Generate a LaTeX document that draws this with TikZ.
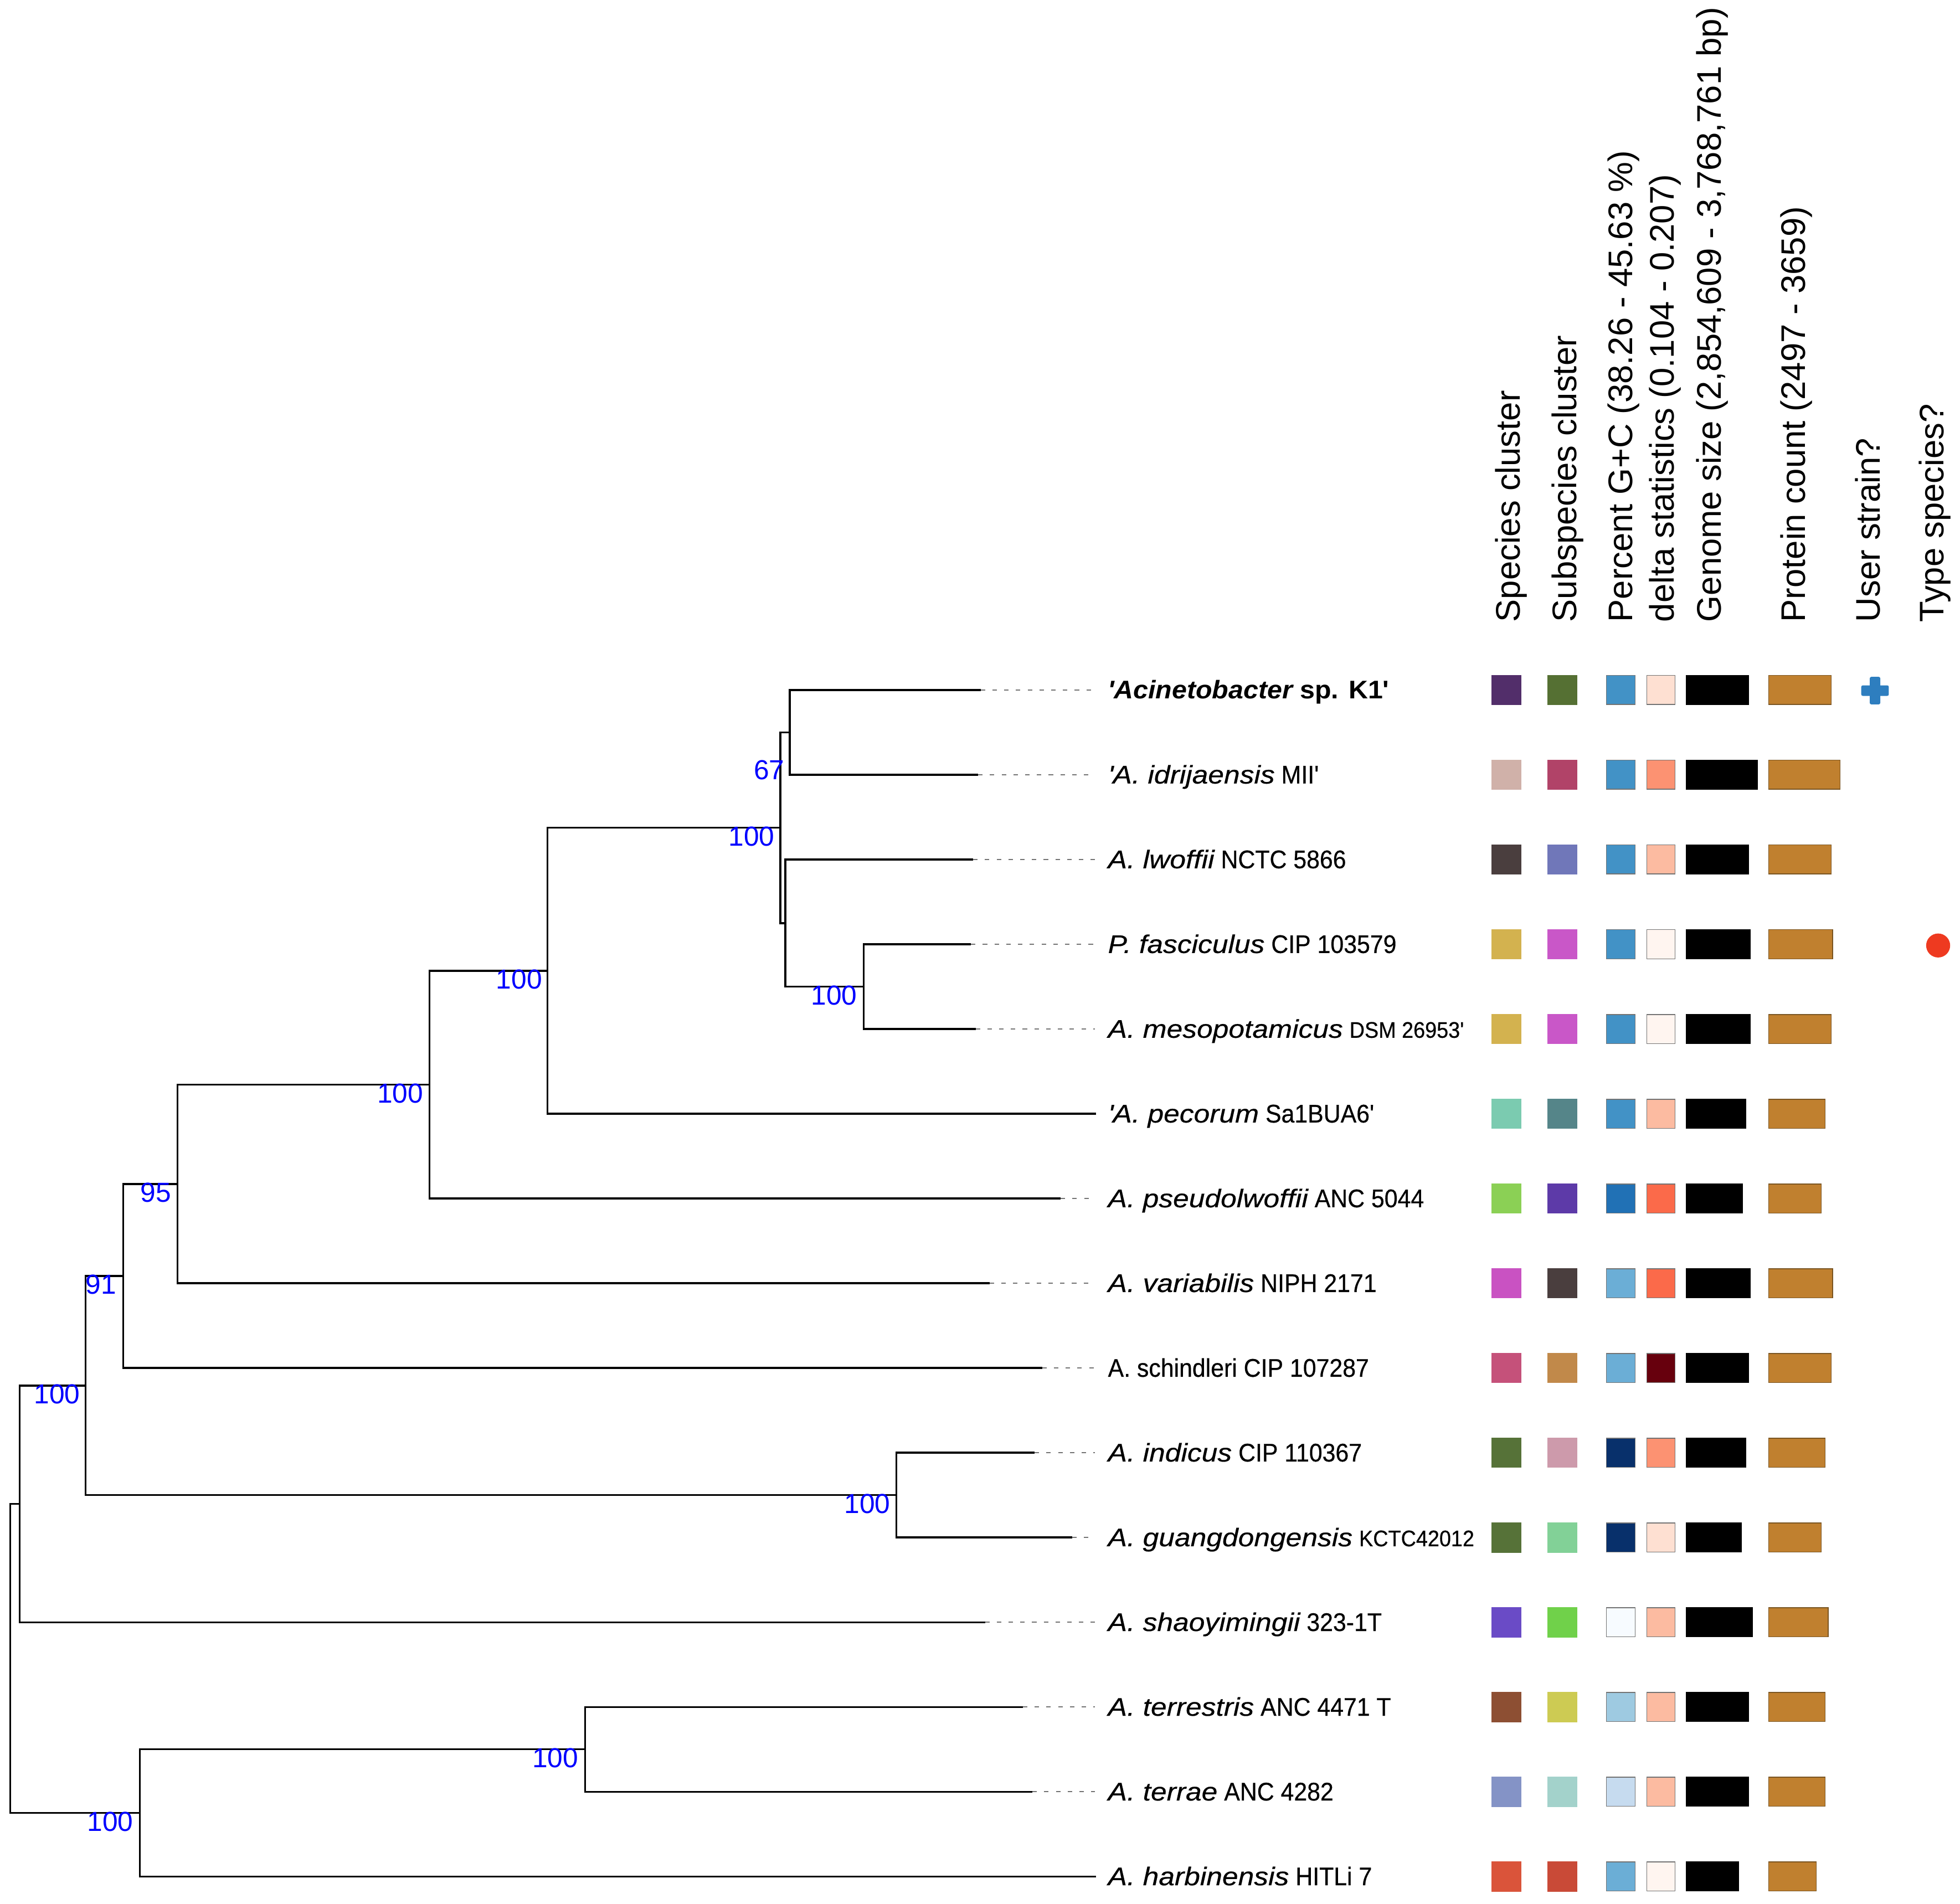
\documentclass[tikz,border=0pt]{standalone}
\usepackage{fontspec}
\setmainfont{Liberation Sans}
\newfontfamily\labup{Liberation Sans}[FakeStretch=0.93,FakeBold=0.5]
\newfontfamily\labit{Liberation Sans}[FakeStretch=1.12,FakeBold=0.5]
\newfontfamily\labbi{Liberation Sans}[FakeStretch=1.05]
\newcommand\sq{\textquotesingle}
% species cluster colours
\definecolor{spa}{HTML}{522E6A}\definecolor{spb}{HTML}{D0B1A9}\definecolor{spc}{HTML}{4A3E3E}
\definecolor{spd}{HTML}{D3B24F}\definecolor{spf}{HTML}{7BCBB0}\definecolor{spg}{HTML}{8BD055}
\definecolor{sph}{HTML}{C952C2}\definecolor{spi}{HTML}{C5517A}\definecolor{spj}{HTML}{567238}
\definecolor{spl}{HTML}{6A4BC6}\definecolor{spm}{HTML}{8D4F33}\definecolor{spn}{HTML}{8493C6}
\definecolor{spo}{HTML}{DA543A}
% subspecies cluster colours
\definecolor{sba}{HTML}{557033}\definecolor{sbb}{HTML}{B14368}\definecolor{sbc}{HTML}{7077B9}
\definecolor{sbd}{HTML}{C957C8}\definecolor{sbf}{HTML}{558589}\definecolor{sbg}{HTML}{5D3AA8}
\definecolor{sbi}{HTML}{C1894A}\definecolor{sbj}{HTML}{CD9AAB}\definecolor{sbk}{HTML}{82D197}
\definecolor{sbl}{HTML}{70D14A}\definecolor{sbm}{HTML}{CDCB53}\definecolor{sbn}{HTML}{A3D2CB}
\definecolor{sbo}{HTML}{C94A37}
% blues and reds
\definecolor{blA}{HTML}{F7FBFF}\definecolor{blC}{HTML}{C6DBEF}\definecolor{blD}{HTML}{9ECAE1}
\definecolor{blE}{HTML}{6BAED6}\definecolor{blF}{HTML}{4292C6}\definecolor{blG}{HTML}{2171B5}
\definecolor{blI}{HTML}{08306B}
\definecolor{rdA}{HTML}{FFF5F0}\definecolor{rdB}{HTML}{FEE0D2}\definecolor{rdC}{HTML}{FCBBA1}
\definecolor{rdD}{HTML}{FC9272}\definecolor{rdE}{HTML}{FB6A4A}\definecolor{rdI}{HTML}{67000D}
\definecolor{prot}{HTML}{C0802F}\definecolor{protb}{HTML}{7A5522}
\definecolor{crossblue}{HTML}{2E7EBF}\definecolor{dotred}{HTML}{EE3A20}
\definecolor{supblue}{HTML}{0000FF}
\newcommand\datarow[7]{%
  \fill[#2] (1193,#1-12.1) rectangle (1217,#1+12.1);
  \fill[#3] (1238,#1-12.1) rectangle (1262,#1+12.1);
  \filldraw[bx,fill=#4] (1285,#1-11.6) rectangle (1308,#1+11.6);
  \filldraw[bx,fill=#5] (1317.5,#1-11.6) rectangle (1340,#1+11.6);
  \filldraw[bx,fill=black,draw=black] (1349,#1-11.6) rectangle (#6,#1+11.6);
  \filldraw[bx,fill=prot,draw=protb] (1415,#1-11.6) rectangle (#7,#1+11.6);
}
\begin{document}
\begin{tikzpicture}[x=0.5pt,y=-0.5pt,
  br/.style={draw=black,line width=0.75pt},
  dsh/.style={draw=black!55,line width=0.5pt,dash pattern=on 1.8pt off 2.9pt},
  bx/.style={draw=black!55,line width=0.3pt},
  lab/.style={anchor=base west,inner sep=0pt,font=\fontsize{10.2}{12}\selectfont},
  sup/.style={anchor=east,inner sep=0pt,text=supblue,font=\fontsize{11}{13}\selectfont},
  hdr/.style={rotate=90,anchor=base west,inner sep=0pt,font=\fontsize{13.65}{16}\selectfont}]
\useasboundingbox (0,0) rectangle (1568,1522.8);

% ---- leaf ends of solid branches
\coordinate (e1) at (784.5,552);
\coordinate (e2) at (782.5,619.8);
\coordinate (e3) at (778.5,687.6);
\coordinate (e4) at (776.8,755.4);
\coordinate (e5) at (780.5,823.2);
\coordinate (e6) at (877,891);
\coordinate (e7) at (848.5,958.8);
\coordinate (e8) at (791.7,1026.6);
\coordinate (e9) at (833.7,1094.4);
\coordinate (e10) at (827.7,1162.2);
\coordinate (e11) at (857.8,1230);
\coordinate (e12) at (788,1297.8);
\coordinate (e13) at (818.3,1365.6);
\coordinate (e14) at (825.9,1433.4);
\coordinate (e15) at (877,1501.2);
% ---- ends of dotted leaders
\coordinate (d1) at (875,552);
\coordinate (d2) at (873,619.8);
\coordinate (d3) at (876,687.6);
\coordinate (d4) at (876,755.4);
\coordinate (d5) at (876,823.2);
\coordinate (d7) at (873,958.8);
\coordinate (d8) at (875,1026.6);
\coordinate (d9) at (876,1094.4);
\coordinate (d10) at (876,1162.2);
\coordinate (d11) at (872,1230);
\coordinate (d12) at (876,1297.8);
\coordinate (d13) at (876,1365.6);
\coordinate (d14) at (876,1433.4);
% ---- internal nodes
\coordinate (n1) at (631.8,585.9);
\coordinate (n3) at (690.9,789.3);
\coordinate (n2) at (628.3,738.5);
\coordinate (n4) at (624.3,662.2);
\coordinate (n5) at (438,776.6);
\coordinate (n6) at (343.5,867.7);
\coordinate (n7) at (142,947.2);
\coordinate (n8) at (98.7,1020.8);
\coordinate (n9) at (717,1196.1);
\coordinate (n10) at (68.5,1108.5);
\coordinate (n11) at (15.6,1203.2);
\coordinate (n12) at (468,1399.5);
\coordinate (n13) at (112,1450.4);
\coordinate (root) at (8.1,1326.8);

% ---- tree branches
\draw[br] (n1) |- (e1); \draw[br] (n1) |- (e2);
\draw[br] (n3) |- (e4); \draw[br] (n3) |- (e5);
\draw[br] (n2) |- (e3); \draw[br] (n2) |- (n3);
\draw[br] (n4) |- (n1); \draw[br] (n4) |- (n2);
\draw[br] (n5) |- (n4); \draw[br] (n5) |- (e6);
\draw[br] (n6) |- (n5); \draw[br] (n6) |- (e7);
\draw[br] (n7) |- (n6); \draw[br] (n7) |- (e8);
\draw[br] (n8) |- (n7); \draw[br] (n8) |- (e9);
\draw[br] (n9) |- (e10); \draw[br] (n9) |- (e11);
\draw[br] (n10) |- (n8); \draw[br] (n10) |- (n9);
\draw[br] (n11) |- (n10); \draw[br] (n11) |- (e12);
\draw[br] (n12) |- (e13); \draw[br] (n12) |- (e14);
\draw[br] (n13) |- (n12); \draw[br] (n13) |- (e15);
\draw[br] (root) |- (n11); \draw[br] (root) |- (n13);

% ---- dotted leaders
\foreach \i in {1,2,3,4,5,7,8,9,10,11,12,13,14} {\draw[dsh] (e\i) -- (d\i);}

% ---- support values
\node[sup] (s67) at (628,616) {67};
\node[sup] (s4) at (620,669.2) {100};
\node[sup] (s3) at (686,796.3) {100};
\node[sup] (s5) at (434,783.6) {100};
\node[sup] (s6) at (339,874.7) {100};
\node[sup] (s7) at (137.3,954) {95};
\node[sup] (s8) at (93.5,1027.8) {91};
\node[sup] (s10) at (64.4,1115.5) {100};
\node[sup] (s9) at (712.5,1203) {100};
\node[sup] (s12) at (463,1406.5) {100};
\node[sup] (s13) at (107,1457.4) {100};

% ---- taxon labels
\node[lab] (t1) at (886,559) {{\labbi\bfseries\itshape \sq Acinetobacter}{\labbi\bfseries\ sp. K1\sq}};
\node[lab] (t2) at (886,626.8) {{\labit\itshape \sq A. idrijaensis}{\labup\ MII\sq}};
\node[lab] (t3) at (886,694.6) {{\labit\itshape A. lwoffii}{\labup\ NCTC 5866}};
\node[lab] (t4) at (886,762.4) {{\labit\itshape P. fasciculus}{\labup\ CIP 103579}};
\node[lab] (t5) at (886,830.2) {{\labit\itshape A. mesopotamicus}{\labup\ \fontsize{9}{11}\selectfont DSM 26953\sq}};
\node[lab] (t6) at (886,898) {{\labit\itshape \sq A. pecorum}{\labup\ Sa1BUA6\sq}};
\node[lab] (t7) at (886,965.8) {{\labit\itshape A. pseudolwoffii}{\labup\ ANC 5044}};
\node[lab] (t8) at (886,1033.6) {{\labit\itshape A. variabilis}{\labup\ NIPH 2171}};
\node[lab] (t9) at (886,1101.4) {{\labup A. schindleri CIP 107287}};
\node[lab] (t10) at (886,1169.2) {{\labit\itshape A. indicus}{\labup\ CIP 110367}};
\node[lab] (t11) at (886,1237) {{\labit\itshape A. guangdongensis}{\labup\ \fontsize{9}{11}\selectfont KCTC42012}};
\node[lab] (t12) at (886,1304.8) {{\labit\itshape A. shaoyimingii}{\labup\ 323-1T}};
\node[lab] (t13) at (886,1372.6) {{\labit\itshape A. terrestris}{\labup\ ANC 4471 T}};
\node[lab] (t14) at (886,1440.4) {{\labit\itshape A. terrae}{\labup\ ANC 4282}};
\node[lab] (t15) at (886,1508.2) {{\labit\itshape A. harbinensis}{\labup\ HITLi 7}};

% ---- column headers
\node[hdr] (h1) at (1216,498) {Species cluster};
\node[hdr] (h2) at (1261,498) {Subspecies cluster};
\node[hdr] (h3) at (1306,498) {Percent G+C (38.26 - 45.63 \%)};
\node[hdr] (h4) at (1339,498) {delta statistics (0.104 - 0.207)};
\node[hdr] (h5) at (1377,498) {Genome size (2,854,609 - 3,768,761 bp)};
\node[hdr] (h6) at (1444,498) {Protein count (2497 - 3659)};
\node[hdr] (h7) at (1504,498) {User strain?};
\node[hdr] (h8) at (1555,498) {Type species?};

% ---- data columns
\datarow{552}{spa}{sba}{blF}{rdB}{1399}{1465}
\datarow{619.8}{spb}{sbb}{blF}{rdD}{1406}{1472}
\datarow{687.6}{spc}{sbc}{blF}{rdC}{1399}{1465}
\datarow{755.4}{spd}{sbd}{blF}{rdA}{1400}{1466}
\datarow{823.2}{spd}{sbd}{blF}{rdA}{1400}{1465}
\datarow{891}{spf}{sbf}{blF}{rdC}{1396.6}{1460}
\datarow{958.8}{spg}{sbg}{blG}{rdE}{1394}{1457}
\datarow{1026.6}{sph}{spc}{blE}{rdE}{1400}{1466}
\datarow{1094.4}{spi}{sbi}{blE}{rdI}{1399}{1465}
\datarow{1162.2}{spj}{sbj}{blI}{rdD}{1396.6}{1460}
\datarow{1230}{spj}{sbk}{blI}{rdB}{1393}{1457}
\datarow{1297.8}{spl}{sbl}{blA}{rdC}{1402}{1462.6}
\datarow{1365.6}{spm}{sbm}{blD}{rdC}{1399}{1460}
\datarow{1433.4}{spn}{sbn}{blC}{rdC}{1399}{1460}
\datarow{1501.2}{spo}{sbo}{blE}{rdA}{1391}{1453}

% ---- user strain cross and type species dot
\fill[crossblue,rounded corners=0.6pt] (1489,548.3) rectangle (1511,556.7);
\fill[crossblue,rounded corners=0.6pt] (1495.8,541.5) rectangle (1504.2,563.5);
\fill[dotred] (1550.5,756.4) circle[radius=4.8pt];
\end{tikzpicture}
\end{document}
